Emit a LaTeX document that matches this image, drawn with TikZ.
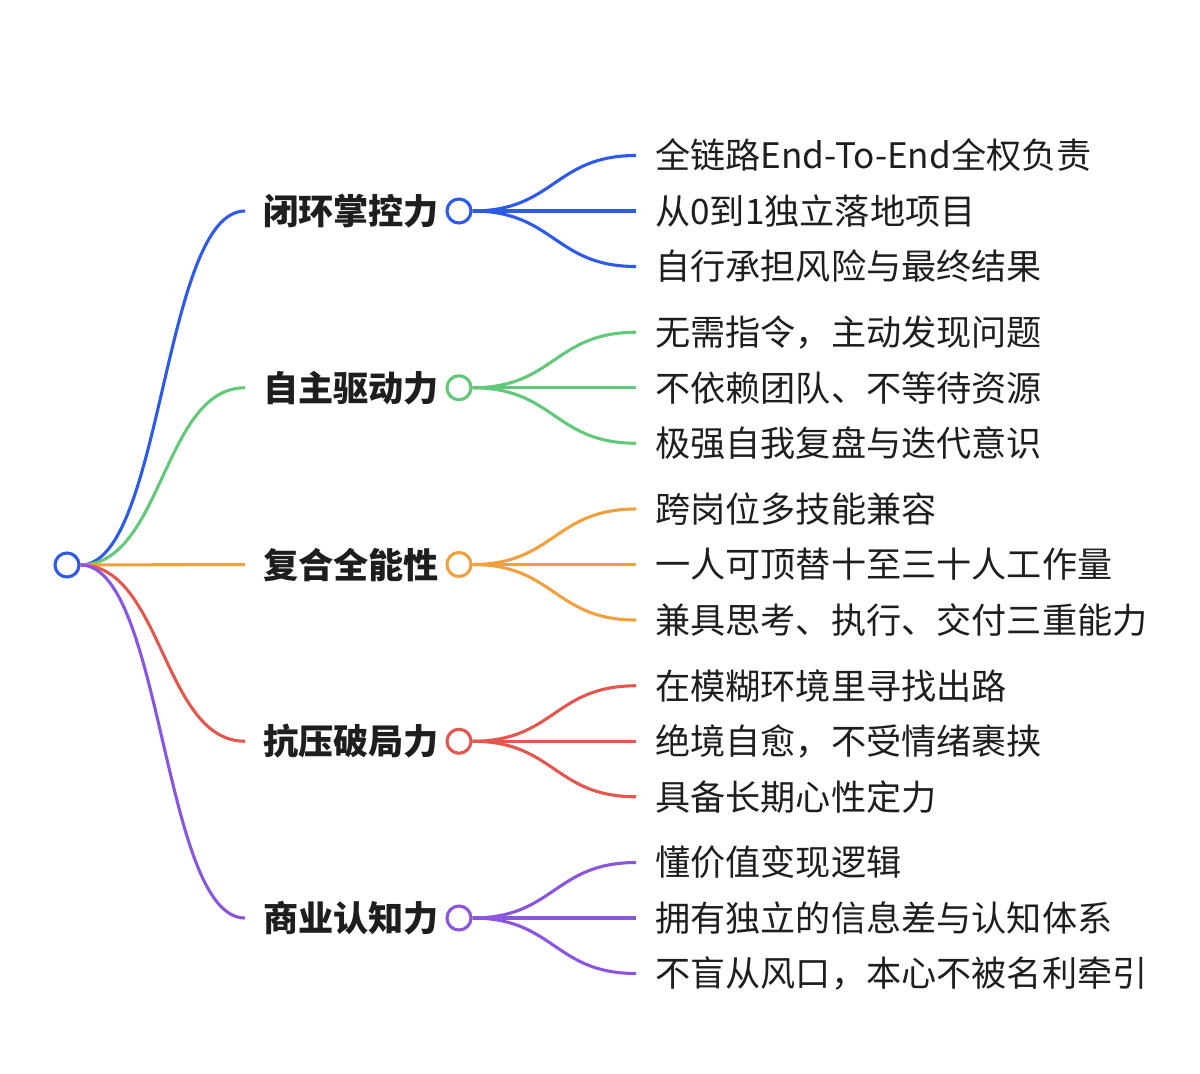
\documentclass[tikz,border=0pt]{standalone}
\usepackage{fontspec}
\setmainfont{Noto Sans CJK SC}
\usetikzlibrary{calc}

\definecolor{mmblue}{RGB}{45,90,232}
\definecolor{mmgreen}{RGB}{98,200,122}
\definecolor{mmorange}{RGB}{240,160,62}
\definecolor{mmred}{RGB}{226,88,78}
\definecolor{mmpurple}{RGB}{138,86,222}
\definecolor{mmtext}{RGB}{30,30,30}

\tikzset{
  link/.style={line width=2.2pt, to path={let \p1=(\tikztostart), \p2=(\tikztotarget) in
      .. controls ($(\p1)!0.5!(\x2,\y1)$) and ($(\p2)!0.5!(\x1,\y2)$) .. (\tikztotarget)}},
  dot/.style={draw, circle, line width=2.2pt, minimum size=0.6cm, inner sep=0pt, fill=white},
  topic/.style={anchor=west, inner xsep=0.45cm, inner ysep=0pt, text=mmtext,
      font=\fontsize{25}{30}\selectfont\bfseries},
  leaf/.style={anchor=west, inner xsep=0.475cm, inner ysep=0pt, text=mmtext,
      font=\fontsize{25}{30}\selectfont}
}

\begin{document}
\begin{tikzpicture}[x=0.025cm, y=-0.025cm]
  \useasboundingbox (0,0) rectangle (1200,1073);

  % root
  \node[dot, draw=mmblue] (root) at (67,565) {};

  % main topics
  \foreach \i/\col/\txt in {1/mmblue/闭环掌控力, 2/mmgreen/自主驱动力, 3/mmorange/复合全能性,
                            4/mmred/抗压破局力, 5/mmpurple/商业认知力} {
    \node[topic] (t\i) at (245, {211+(\i-1)*176.75}) {\txt};
    \node[dot, draw=\col] (c\i) at (459, {211+(\i-1)*176.75}) {};
    \draw[link, draw=\col] (root.east) to (t\i.west);
  }

  % leaves
  \foreach \i/\k/\col/\txt in {
      1/1/mmblue/全链路End-To-End全权负责, 1/2/mmblue/从0到1独立落地项目, 1/3/mmblue/自行承担风险与最终结果,
      2/1/mmgreen/无需指令，主动发现问题, 2/2/mmgreen/不依赖团队、不等待资源, 2/3/mmgreen/极强自我复盘与迭代意识,
      3/1/mmorange/跨岗位多技能兼容, 3/2/mmorange/一人可顶替十至三十人工作量, 3/3/mmorange/兼具思考、执行、交付三重能力,
      4/1/mmred/在模糊环境里寻找出路, 4/2/mmred/绝境自愈，不受情绪裹挟, 4/3/mmred/具备长期心性定力,
      5/1/mmpurple/懂价值变现逻辑, 5/2/mmpurple/拥有独立的信息差与认知体系, 5/3/mmpurple/不盲从风口，本心不被名利牵引} {
    \node[leaf] (l\i\k) at (636, {211+(\i-1)*176.75+(\k-2)*55.5}) {\txt};
    \draw[link, draw=\col] (c\i.east) to (l\i\k.west);
  }
\end{tikzpicture}
\end{document}
